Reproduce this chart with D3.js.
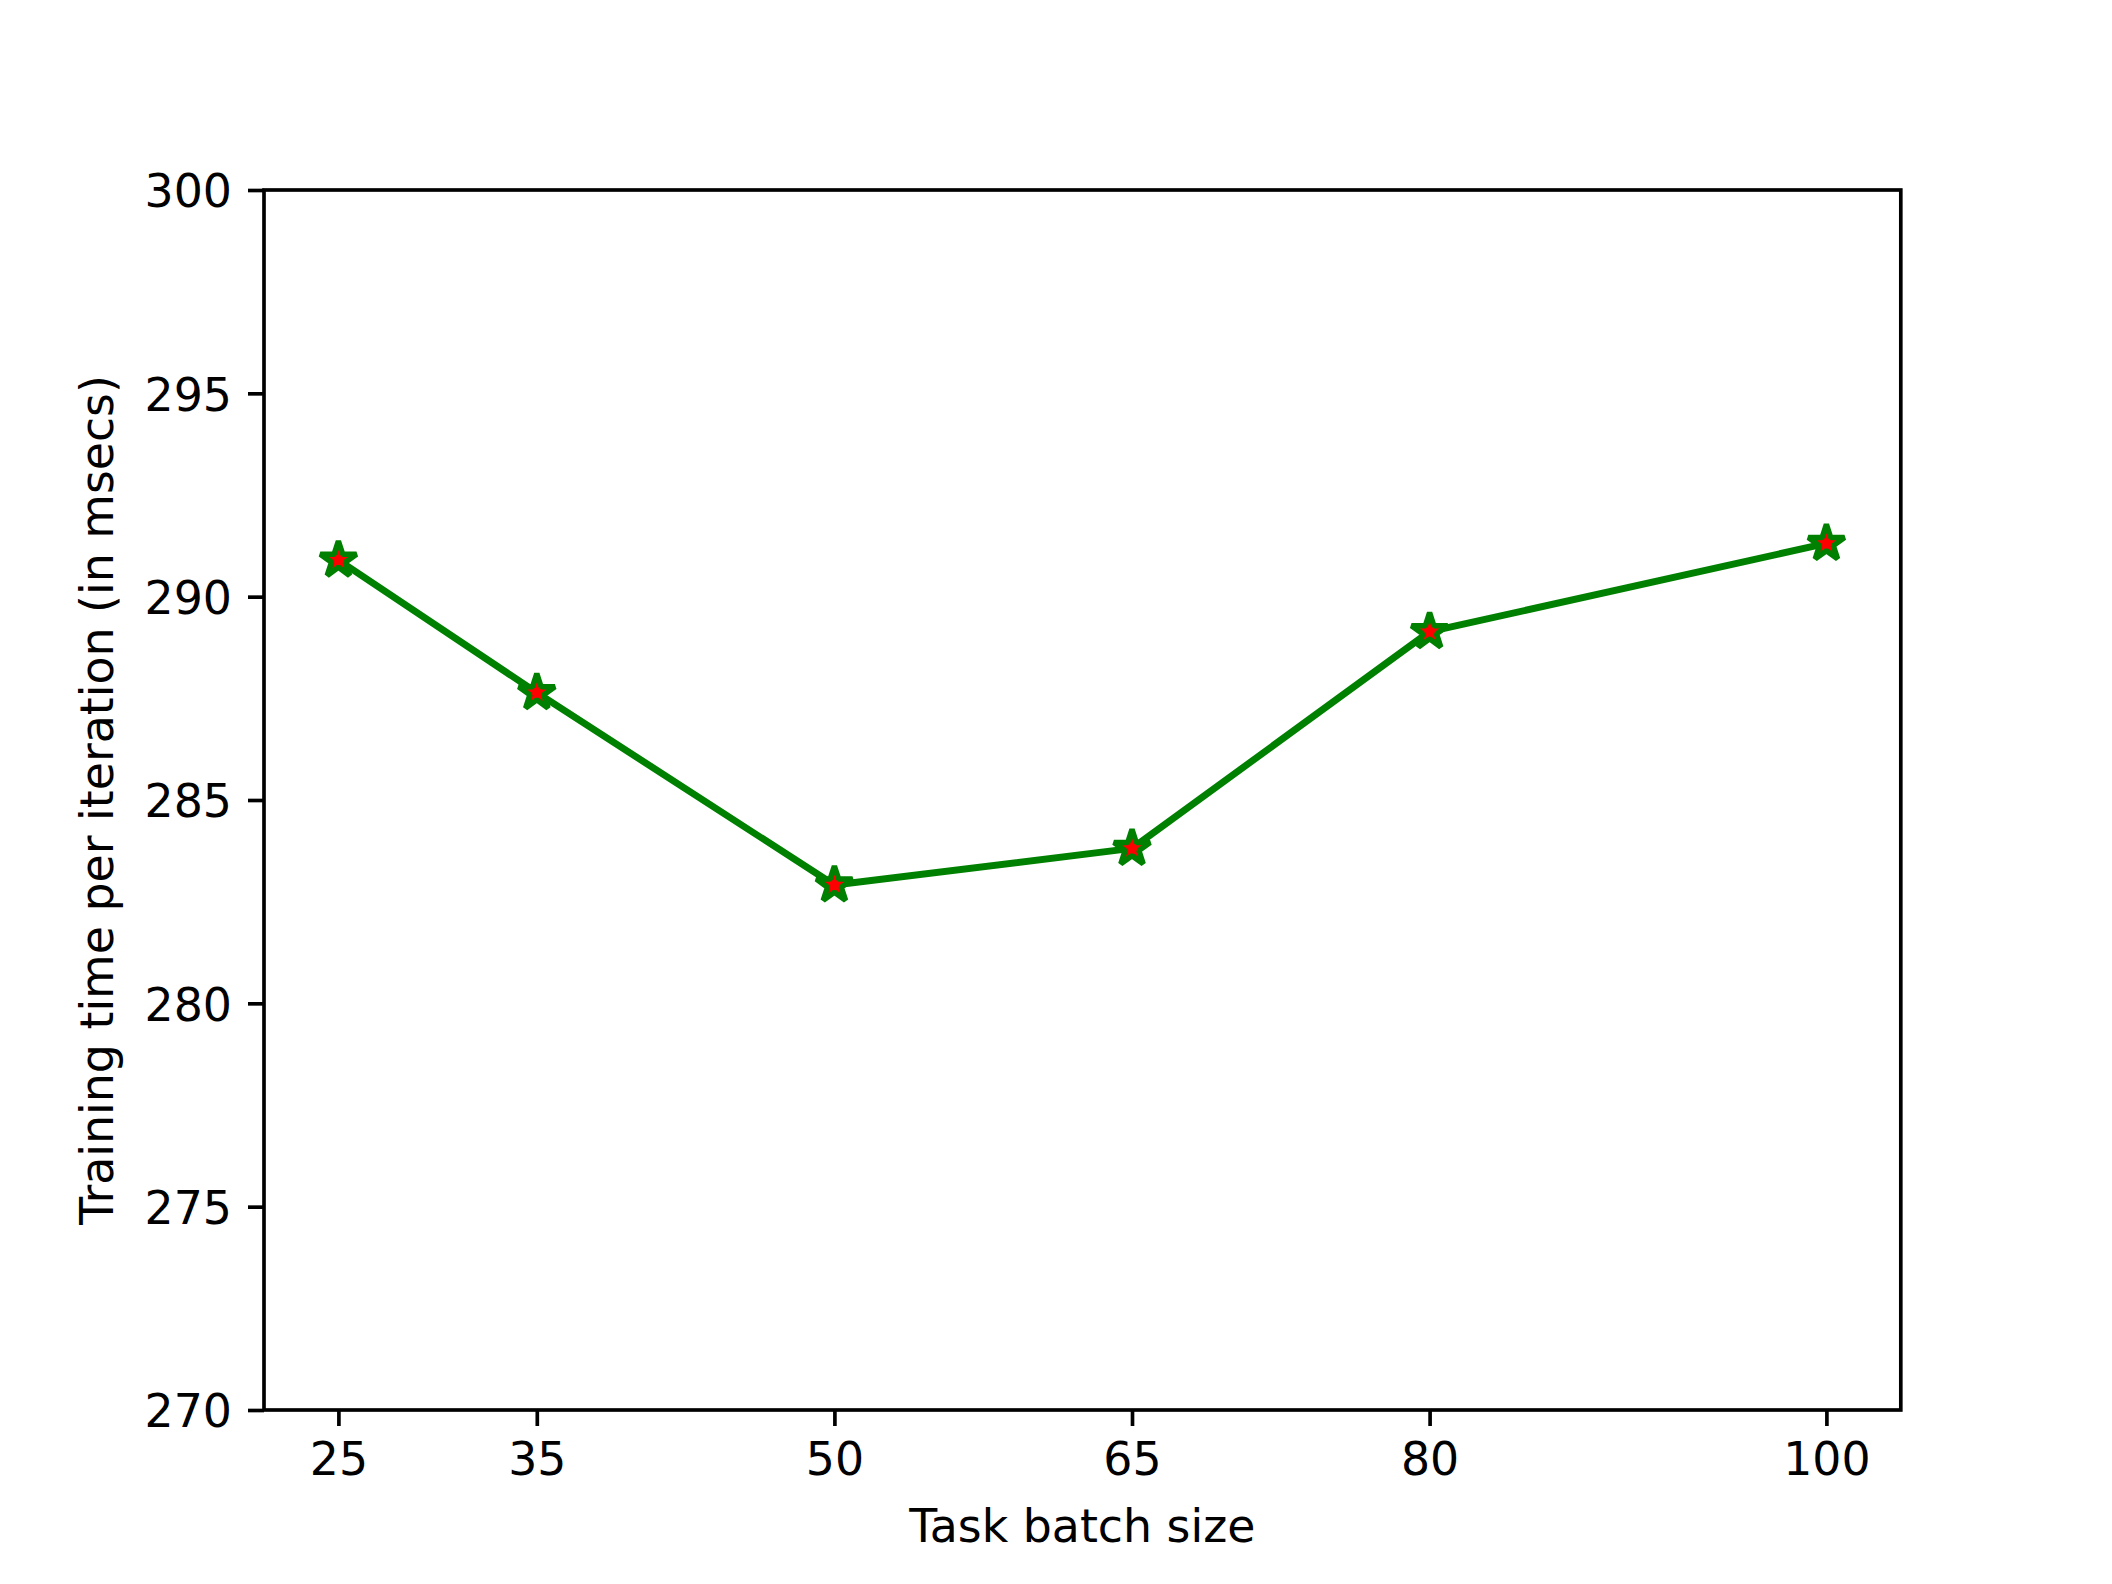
<!DOCTYPE html>
<html>
<head>
<meta charset="utf-8">
<script src="https://cdn.jsdelivr.net/npm/d3@7"></script>
<style>
  body { margin: 0; background: #fff; }
  svg { display: block; font-family: "DejaVu Sans", sans-serif; }
</style>
</head>
<body>
<div class="chart-container"></div>
<script>
// data
const batchSizes = [25, 35, 50, 65, 80, 100];
const trainTimes = [290.9, 287.64, 282.91, 283.81, 289.14, 291.31];
const yTicks = [270, 275, 280, 285, 290, 295, 300];

const W = 2112, H = 1584;
const margin = { top: 190, right: 211.2, bottom: 174, left: 264 };
const width = W - margin.left - margin.right;
const height = H - margin.top - margin.bottom;

const fontSize = 45.8;
const tickLen = 16;
const pad = 16;

const svg = d3.select('.chart-container')
    .append('svg')
    .attr('width', W)
    .attr('height', H);

svg.append('rect').attr('width', W).attr('height', H).attr('fill', '#fff');

const g = svg.append('g')
    .attr('transform', `translate(${margin.left},${margin.top})`);

// matplotlib style 5% margins on x
const xMin = d3.min(batchSizes), xMax = d3.max(batchSizes);
const xPad = (xMax - xMin) * 0.05;
const x = d3.scaleLinear()
    .domain([xMin - xPad, xMax + xPad])
    .range([0, width]);

const y = d3.scaleLinear()
    .domain([270, 300])
    .range([height, 0]);

// x axis
const xAxis = g.append('g')
    .attr('transform', `translate(0,${height})`)
    .call(d3.axisBottom(x).tickValues(batchSizes).tickSize(tickLen).tickPadding(pad).tickFormat(d3.format('d')));

// y axis
const yAxis = g.append('g')
    .call(d3.axisLeft(y).tickValues(yTicks).tickSize(tickLen).tickPadding(pad).tickFormat(d3.format('d')));

[xAxis, yAxis].forEach(a => {
    a.select('.domain').remove();
    a.selectAll('.tick line').attr('stroke', '#000').attr('stroke-width', 3.67);
    a.selectAll('.tick text')
        .attr('fill', '#000')
        .attr('font-size', fontSize)
        .attr('font-family', '"DejaVu Sans", sans-serif');
});
xAxis.selectAll('.tick text').attr('dy', null).attr('y', tickLen + pad + 33.4);
yAxis.selectAll('.tick text').attr('dy', null).attr('y', 16.7);

// frame
g.append('rect')
    .attr('width', width)
    .attr('height', height)
    .attr('fill', 'none')
    .attr('stroke', '#000')
    .attr('stroke-width', 3.67);

// line
const line = d3.line()
    .x((d, i) => x(batchSizes[i]))
    .y(d => y(d));

g.append('path')
    .datum(trainTimes)
    .attr('fill', 'none')
    .attr('stroke', 'green')
    .attr('stroke-width', 6.9)
    .attr('stroke-linejoin', 'round')
    .attr('stroke-linecap', 'square')
    .attr('d', line);

// star markers, matplotlib-like (inner radius 0.381966)
function starPath(r) {
    const pts = [];
    for (let k = 0; k < 10; k++) {
        const rad = k % 2 === 0 ? r : r * 0.381966;
        const a = Math.PI / 2 + k * Math.PI / 5;
        pts.push([rad * Math.cos(a), -rad * Math.sin(a)]);
    }
    return 'M' + pts.map(p => p.join(',')).join('L') + 'Z';
}

g.selectAll('.marker')
    .data(trainTimes)
    .enter().append('path')
    .attr('class', 'marker')
    .attr('transform', (d, i) => `translate(${x(batchSizes[i])},${y(d)})`)
    .attr('d', starPath(19))
    .attr('fill', 'red')
    .attr('stroke', 'green')
    .attr('stroke-width', 5.5)
    .attr('stroke-linejoin', 'bevel');

// labels
svg.append('text')
    .attr('x', margin.left + width / 2)
    .attr('y', 1541.5)
    .attr('text-anchor', 'middle')
    .attr('font-size', fontSize)
    .text('Task batch size');

svg.append('text')
    .attr('transform', `translate(113,${margin.top + height / 2}) rotate(-90)`)
    .attr('text-anchor', 'middle')
    .attr('font-size', fontSize)
    .text('Training time per iteration (in msecs)');
</script>
</body>
</html>
